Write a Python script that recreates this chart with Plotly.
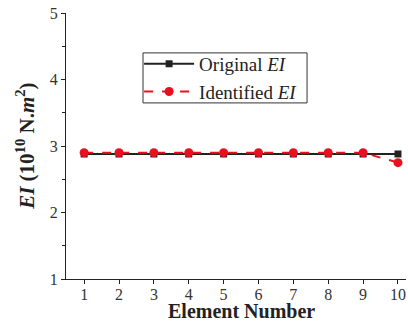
import plotly.graph_objects as go

elements = [1, 2, 3, 4, 5, 6, 7, 8, 9, 10]
original_ei = [2.88, 2.88, 2.88, 2.88, 2.88, 2.88, 2.88, 2.88, 2.88, 2.88]
identified_ei = [2.9, 2.9, 2.9, 2.9, 2.9, 2.9, 2.9, 2.9, 2.9, 2.75]
y_ticks = [1, 2, 3, 4, 5]

FONT = "Liberation Serif"

fig = go.Figure()
fig.add_trace(go.Scatter(
    x=elements, y=original_ei, mode="lines+markers",
    name="Original <i>EI</i>",
    line=dict(color="#222222", width=2),
    marker=dict(symbol="square", size=7, color="#222222"),
))
fig.add_trace(go.Scatter(
    x=elements, y=identified_ei, mode="lines+markers",
    name="Identified <i>EI</i>",
    line=dict(color="#e8101e", width=2, dash="dash"),
    marker=dict(symbol="circle", size=9, color="#e8101e"),
))

axis_common = dict(
    showline=True, linecolor="#222222", linewidth=1.2,
    ticks="outside", tickcolor="#222222", ticklen=4, tickwidth=1,
    showgrid=False, zeroline=False, mirror=False, automargin=False,
    tickfont=dict(family=FONT, size=16, color="#333333"),
)

fig.update_xaxes(range=[0.48, 10.23], tickvals=elements, ticklabelstandoff=-3, **axis_common)
fig.update_yaxes(
    range=[1, 5], tickvals=y_ticks,
    minor=dict(ticks="outside", ticklen=3, tickcolor="#222222", dtick=0.5, tickwidth=1),
    **axis_common,
)

# axis titles placed as annotations so they sit tight against the tick labels
fig.add_annotation(
    text="<b>Element Number</b>", xref="paper", yref="paper",
    x=0.515, y=-0.119, xanchor="center", yanchor="middle", showarrow=False,
    font=dict(family=FONT, size=20, color="#222222"),
)
fig.add_annotation(
    text="<b><i>EI</i> (10<sup>10</sup> N.<i>m</i><sup>2</sup>)</b>", xref="paper", yref="paper",
    x=-0.121, y=0.5, xanchor="center", yanchor="middle", textangle=-90, showarrow=False,
    font=dict(family=FONT, size=21, color="#222222"),
)

# legend frame drawn separately for a snug box
fig.add_shape(
    type="rect", xref="paper", yref="paper",
    x0=0.2265, x1=0.709, y0=0.662, y1=0.85,
    line=dict(color="#333333", width=1), fillcolor="white", layer="below",
)

fig.update_layout(
    width=408, height=321,
    margin=dict(l=66, r=2, t=13, b=42),
    plot_bgcolor="white", paper_bgcolor="white",
    showlegend=True,
    legend=dict(
        x=0.215, y=0.88, xanchor="left", yanchor="top",
        bgcolor="rgba(0,0,0,0)", borderwidth=0,
        font=dict(family=FONT, size=19, color="#222222"),
        tracegroupgap=0, itemwidth=50,
    ),
)

fig.write_html("out.html")
